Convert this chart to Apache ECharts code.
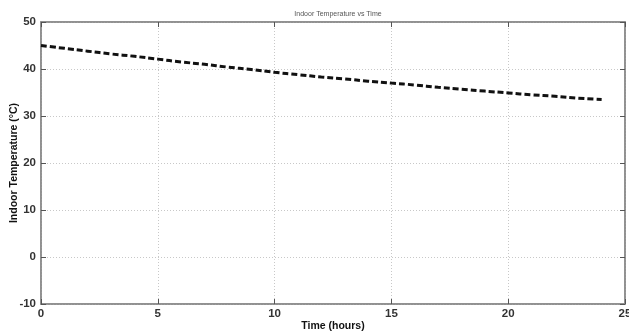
<!DOCTYPE html>
<html>
<head>
<meta charset="utf-8">
<script src="https://cdn.jsdelivr.net/npm/echarts@6/dist/echarts.min.js"></script>
<style>
  html, body { margin: 0; padding: 0; background: #fff; }
  #chart { width: 629px; height: 334px; }
</style>
</head>
<body>
<div id="chart"></div>
<script>
// time (hours) and indoor temperature
var hours = [0, 1, 2, 3, 4, 5, 6, 7, 8, 9, 10, 11, 12, 13, 14, 15, 16, 17, 18, 19, 20, 21, 22, 23, 24]
var temps = [45.0, 44.4, 43.8, 43.2, 42.7, 42.1, 41.5, 41.0, 40.4, 39.9, 39.3, 38.8, 38.3, 37.9, 37.4,
  37.0, 36.6, 36.1, 35.7, 35.3, 34.9, 34.5, 34.2, 33.8, 33.5]
var xTicks = [0, 5, 10, 15, 20, 25]
var yTicks = [-10, 0, 10, 20, 30, 40, 50]

var chart = echarts.init(document.getElementById('chart'))

var axisColor = '#8a8a8a'
var fontFamily = 'Liberation Sans, Arial, sans-serif'

var option = {
  animation: false,
  title: {
    text: 'Indoor Temperature vs Time',
    left: 333,
    top: 6,
    textAlign: 'center',
    textStyle: { fontSize: 7, fontWeight: 'normal', color: '#555', fontFamily: fontFamily }
  },
  grid: {
    left: 41, right: 4, top: 22, bottom: 30,
    outerBoundsMode: 'none',
    containLabel: false,
    show: true, borderColor: axisColor, borderWidth: 1.5, backgroundColor: '#fff'
  },
  xAxis: [
    {
      type: 'value',
      min: xTicks[0], max: xTicks[xTicks.length - 1], interval: 5,
      name: 'Time (hours)',
      nameLocation: 'middle',
      nameGap: 17,
      nameMoveOverlap: false,
      nameTextStyle: { fontSize: 10.5, fontWeight: 'bold', color: '#111', fontFamily: fontFamily },
      axisLine: { show: true, onZero: false, lineStyle: { color: axisColor, width: 1.5 } },
      axisTick: { show: true, inside: true, length: 5, lineStyle: { color: '#555' } },
      axisLabel: { margin: 4, fontSize: 11.5, fontWeight: 'bold', color: '#333', fontFamily: fontFamily },
      splitLine: { show: true, lineStyle: { color: '#c8c8c8', type: [1, 2], width: 1 } }
    },
    {
      type: 'value', position: 'top',
      min: xTicks[0], max: xTicks[xTicks.length - 1], interval: 5,
      axisLine: { show: true, onZero: false, lineStyle: { color: axisColor, width: 1.5 } },
      axisTick: { show: true, inside: true, length: 5, lineStyle: { color: '#555' } },
      axisLabel: { show: false },
      splitLine: { show: false }
    }
  ],
  yAxis: [
    {
      type: 'value',
      min: yTicks[0], max: yTicks[yTicks.length - 1], interval: 10,
      name: 'Indoor Temperature (°C)',
      nameLocation: 'middle',
      nameGap: 21,
      nameMoveOverlap: false,
      nameTextStyle: { fontSize: 10.5, fontWeight: 'bold', color: '#111', fontFamily: fontFamily },
      axisLine: { show: true, onZero: false, lineStyle: { color: axisColor, width: 1.5 } },
      axisTick: { show: true, inside: true, length: 5, lineStyle: { color: '#555' } },
      axisLabel: { margin: 5, fontSize: 11.5, fontWeight: 'bold', color: '#333', fontFamily: fontFamily },
      splitLine: { show: true, lineStyle: { color: '#c8c8c8', type: [1, 2], width: 1 } }
    },
    {
      type: 'value', position: 'right',
      min: yTicks[0], max: yTicks[yTicks.length - 1], interval: 10,
      axisLine: { show: true, onZero: false, lineStyle: { color: axisColor, width: 1.5 } },
      axisTick: { show: true, inside: true, length: 5, lineStyle: { color: '#555' } },
      axisLabel: { show: false },
      splitLine: { show: false }
    }
  ],
  series: [
    {
      type: 'line',
      data: hours.map(function (h, i) { return [h, temps[i]] }),
      showSymbol: false,
      smooth: true,
      lineStyle: { color: '#111', width: 3, type: [6, 3] }
    }
  ]
}

chart.setOption(option)
</script>
</body>
</html>
